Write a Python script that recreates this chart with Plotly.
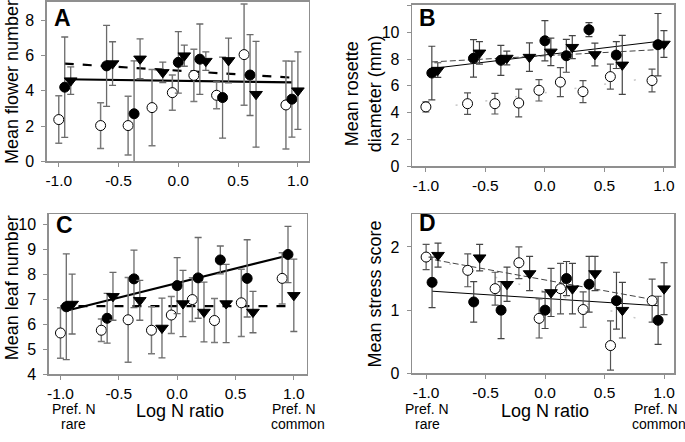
import plotly.graph_objects as go

W, H = 685, 442

# ---- data ----
x_open = [-1.0, -0.65, -0.42, -0.22, -0.05, 0.13, 0.32, 0.55, 0.90]
x_filled = [-0.95, -0.60, -0.37, 0.00, 0.18, 0.37, 0.60, 0.95]
x_tri = [-0.90, -0.55, -0.32, -0.13, 0.05, 0.23, 0.42, 0.65, 1.00]

# Panel A: flower number
a_open = [2.37, 2.03, 2.03, 3.05, 3.90, 4.88, 3.75, 6.06, 3.20]
a_open_err = [1.35, 1.30, 1.67, 2.16, 1.00, 1.48, 0.76, 2.88, 2.50]
a_filled = [4.21, 5.42, 2.70, 5.62, 5.80, 3.62, 4.90, 3.53]
a_filled_err = [2.85, 2.30, 3.00, 1.75, 2.00, 2.30, 2.30, 2.16]
a_tri = [4.58, 5.55, 5.82, 5.05, 6.00, 5.69, 5.73, 3.81, 4.01]
a_tri_err = [0.78, 1.24, 1.13, 0.58, 0.60, 0.53, 1.27, 3.00, 2.20]
a_fit_x = [-0.95, 0.95]
a_fit_filled = [4.66, 4.48]
a_fit_tri = [5.55, 4.75]

# Panel B: rosette diameter
b_open = [4.43, 4.67, 4.67, 4.72, 5.67, 6.28, 5.57, 6.69, 6.40]
b_open_err = [0.38, 0.80, 0.77, 1.03, 0.80, 1.08, 0.82, 0.93, 0.85]
b_filled = [6.96, 8.06, 7.91, 9.37, 8.25, 10.20, 8.30, 9.08]
b_filled_err = [2.00, 1.40, 1.12, 1.50, 1.23, 0.52, 1.00, 2.33]
b_tri = [7.18, 8.47, 8.08, 8.15, 8.54, 8.89, 8.35, 7.57, 9.13]
b_tri_err = [0.55, 0.84, 0.51, 1.06, 1.03, 0.86, 0.85, 2.20, 1.00]
b_fit_x = [-0.95, 0.95]
b_fit_filled = [7.30, 9.32]
b_fit_tri = [7.79, 8.71]
b_fit_open_x = [-1.0, 0.90]
b_fit_open = [4.24, 6.62]

# Panel C: leaf number
c_open = [5.66, 5.77, 6.19, 5.77, 6.38, 7.00, 6.16, 6.87, 7.85]
c_open_err = [1.01, 0.45, 1.70, 0.94, 0.74, 0.88, 0.88, 1.35, 1.03]
c_filled = [6.71, 6.25, 7.83, 7.56, 7.87, 8.59, 7.85, 8.81]
c_filled_err = [2.12, 1.00, 1.15, 1.12, 1.62, 0.56, 1.55, 1.13]
c_tri = [6.82, 7.13, 6.97, 5.86, 6.84, 6.50, 6.84, 6.50, 7.17]
c_tri_err = [1.20, 0.96, 0.80, 1.20, 1.33, 1.20, 1.57, 0.83, 1.45]
c_fit_filled_x = [-0.95, 0.95]
c_fit_filled = [6.55, 8.77]
c_fit_tri_x = [-1.0, 0.95]
c_fit_tri = [6.74, 6.74]

# Panel D: stress score
d_open = [1.84, 1.63, 1.34, 1.75, 0.87, 1.34, 1.01, 0.44, 1.15]
d_open_err = [0.20, 0.26, 0.26, 0.25, 0.31, 0.40, 0.28, 0.39, 0.34]
d_filled = [1.44, 1.13, 1.00, 1.00, 1.50, 1.41, 1.15, 0.84]
d_filled_err = [0.40, 0.32, 0.45, 0.29, 0.27, 0.44, 0.45, 0.38]
d_tri = [1.87, 1.83, 1.41, 1.58, 1.28, 1.34, 1.58, 1.00, 1.34]
d_tri_err = [0.19, 0.21, 0.27, 0.27, 0.38, 0.40, 0.27, 0.44, 0.41]
d_fit_filled_x = [-0.95, 0.95]
d_fit_filled = [1.30, 1.07]
d_fit_tri_x = [-1.0, 0.90]
d_fit_tri = [1.82, 1.17]
d_fit_open_x = [-1.0, 0.90]
d_fit_open = [1.84, 0.80]

x_ticks = [-1.0, -0.5, 0.0, 0.5, 1.0]

FONT = "Liberation Sans, Arial, sans-serif"
FRAME = "#8f8f8f"

fig = go.Figure()

def px_x(p):
    return p / W

def px_y(p):
    return 1 - p / H

panels = {
    "A": dict(xa="x", ya="y", dom_x=(45, 308), dom_y=(1, 164), xr=[-1.1, 1.09], yr=[0, 9.05],
              yt=[0, 2, 4, 6, 8]),
    "B": dict(xa="x2", ya="y2", dom_x=(412, 675), dom_y=(4, 169), xr=[-1.115, 1.085], yr=[0, 12.05],
              yt=[0, 2, 4, 6, 8, 10, 12]),
    "C": dict(xa="x3", ya="y3", dom_x=(47, 306), dom_y=(218, 382), xr=[-1.1, 1.11], yr=[4, 10.43],
              yt=[4, 5, 6, 7, 8, 9, 10]),
    "D": dict(xa="x4", ya="y4", dom_x=(412, 675), dom_y=(218, 381), xr=[-1.117, 1.084], yr=[0, 2.52],
              yt=[0, 1, 2]),
}

def add_group(p, xs, ys, errs, symbol, fill, errcolor, errw):
    fig.add_trace(go.Scatter(
        x=xs, y=ys, mode="markers", xaxis=p["xa"], yaxis=p["ya"], showlegend=False,
        cliponaxis=True, hoverinfo="skip",
        marker=dict(symbol=symbol, size=10 if symbol != "triangle-down" else 11, color=fill,
                    line=dict(color="black", width=1)),
        error_y=dict(type="data", array=errs, visible=True, color=errcolor,
                     thickness=errw, width=3.5),
    ))

def add_line(p, xs, ys, dash, width, color="black"):
    fig.add_trace(go.Scatter(
        x=xs, y=ys, mode="lines", xaxis=p["xa"], yaxis=p["ya"], showlegend=False,
        hoverinfo="skip", line=dict(color=color, width=width, dash=dash),
    ))

# Panel A
p = panels["A"]
add_line(p, a_fit_x, a_fit_filled, "solid", 2.2)
add_line(p, a_fit_x, a_fit_tri, "dash", 2.2)
add_group(p, x_open, a_open, a_open_err, "circle", "white", "#7a7a7a", 1.5)
add_group(p, x_filled, a_filled, a_filled_err, "circle", "black", "#6a6a6a", 1.3)
add_group(p, x_tri, a_tri, a_tri_err, "triangle-down", "black", "#6a6a6a", 1.3)

# Panel B
p = panels["B"]
add_line(p, b_fit_open_x, b_fit_open, "2px,28px", 1.5, "#c8c8c8")
add_line(p, b_fit_x, b_fit_filled, "solid", 1)
add_line(p, b_fit_x, b_fit_tri, "6px,3px", 1, "#444444")
add_group(p, x_open, b_open, b_open_err, "circle", "white", "#555555", 1.2)
add_group(p, x_filled, b_filled, b_filled_err, "circle", "black", "#444444", 1.2)
add_group(p, x_tri, b_tri, b_tri_err, "triangle-down", "black", "#444444", 1.2)

# Panel C
p = panels["C"]
add_line(p, c_fit_filled_x, c_fit_filled, "solid", 2.2)
add_line(p, c_fit_tri_x, c_fit_tri, "dash", 2.2)
add_group(p, x_open, c_open, c_open_err, "circle", "white", "#7a7a7a", 1.5)
add_group(p, x_filled, c_filled, c_filled_err, "circle", "black", "#6a6a6a", 1.3)
add_group(p, x_tri, c_tri, c_tri_err, "triangle-down", "black", "#6a6a6a", 1.3)

# Panel D
p = panels["D"]
add_line(p, d_fit_open_x, d_fit_open, "2px,22px", 1.5, "#c8c8c8")
add_line(p, d_fit_filled_x, d_fit_filled, "solid", 1)
add_line(p, d_fit_tri_x, d_fit_tri, "6px,3px", 1, "#444444")
add_group(p, x_open, d_open, d_open_err, "circle", "white", "#555555", 1.2)
add_group(p, x_filled, d_filled, d_filled_err, "circle", "black", "#444444", 1.2)
add_group(p, x_tri, d_tri, d_tri_err, "triangle-down", "black", "#444444", 1.2)

layout = dict(
    width=W, height=H, margin=dict(l=0, r=0, t=0, b=0),
    paper_bgcolor="white", plot_bgcolor="white",
    font=dict(family=FONT, size=16, color="black"),
)

for name, p in panels.items():
    xk = "xaxis" + p["xa"][1:]
    yk = "yaxis" + p["ya"][1:]
    layout[xk] = dict(
        domain=[px_x(p["dom_x"][0]), px_x(p["dom_x"][1])], range=p["xr"], anchor=p["ya"],
        tickvals=x_ticks, ticktext=[f"{v:.1f}" for v in x_ticks],
        showline=True, mirror=True, linecolor=FRAME, linewidth=1.5,
        ticks="outside", ticklen=4, tickcolor=FRAME, showgrid=False, zeroline=False,
        tickfont=dict(size=15.5), ticklabelstandoff=1,
    )
    layout[yk] = dict(
        domain=[px_y(p["dom_y"][1]), px_y(p["dom_y"][0])], range=p["yr"], anchor=p["xa"],
        tickvals=p["yt"],
        showline=True, mirror=True, linecolor=FRAME, linewidth=1.5,
        ticks="outside", ticklen=4, tickcolor=FRAME, showgrid=False, zeroline=False,
        tickfont=dict(size=16), ticklabelstandoff=4,
    )

fig.update_layout(**layout)

def ann(text, x, y, size, bold=False, angle=0, xanchor="center"):
    fig.add_annotation(
        text=f"<b>{text}</b>" if bold else text, x=px_x(x), y=px_y(y), xref="paper", yref="paper",
        showarrow=False, textangle=angle, xanchor=xanchor, yanchor="middle", borderpad=0,
        font=dict(family=FONT, size=size, color="black"),
    )

# panel letters
ann("A", 61, 17, 23, bold=True)
ann("B", 427, 17, 23, bold=True)
ann("C", 63, 229, 23, bold=True)
ann("D", 427, 227, 23, bold=True)

# y-axis titles
ann("Mean flower number", 10, 83, 18, angle=-90)
ann("Mean rosette<br>diameter (mm)", 363, 95, 18, angle=-90)
ann("Mean leaf number", 10, 293, 18, angle=-90)
ann("Mean stress score", 375, 300, 18, angle=-90)

# x-axis titles
ann("Log N ratio", 179, 420, 18)
ann("Log N ratio", 545, 420, 18)

# end labels
ann("Pref. N", 72, 417, 14)
ann("rare", 72, 433, 14)
ann("Pref. N", 293, 417, 14)
ann("common", 297, 433, 14)
ann("Pref. N", 657, 417, 14)
ann("common", 660, 433, 14)
ann("Pref. N", 427, 417, 14)
ann("rare", 427, 433, 14)

fig.write_html(
    "out.html",
    config={"displayModeBar": False, "staticPlot": True},
    post_script="document.body.style.margin='0';document.body.style.overflow='hidden';",
)
